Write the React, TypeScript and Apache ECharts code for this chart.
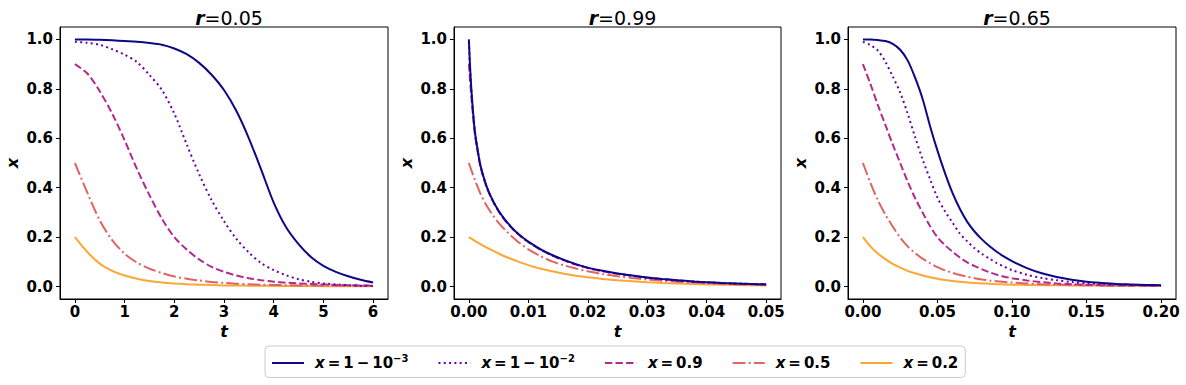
import React, { useEffect, useRef } from "react";
import * as echarts from "echarts";

// ---------- data ----------
const SERIES_NAMES = ["x = 1 − 10^−3", "x = 1 − 10^−2", "x = 0.9", "x = 0.5", "x = 0.2"];
const TITLES = ["0.05", "0.99", "0.65"];

const T1 = [0, 0.25, 0.5, 0.75, 1, 1.25, 1.5, 1.75, 2, 2.25, 2.5, 2.75, 3, 3.25, 3.5, 3.75, 4, 4.25, 4.5, 4.75, 5, 5.25, 5.5, 5.75, 6];
const P1_A = [0.999, 0.999, 0.998, 0.996, 0.993, 0.99, 0.985, 0.978, 0.963, 0.94, 0.905, 0.857, 0.795, 0.71, 0.6, 0.472, 0.34, 0.24, 0.172, 0.12, 0.084, 0.06, 0.042, 0.028, 0.017];
const P1_B = [0.99, 0.986, 0.978, 0.96, 0.938, 0.908, 0.856, 0.795, 0.7, 0.575, 0.455, 0.35, 0.265, 0.193, 0.138, 0.095, 0.067, 0.046, 0.03, 0.02, 0.013, 0.009, 0.006, 0.004, 0.003];
const P1_C = [0.9, 0.862, 0.79, 0.7, 0.592, 0.475, 0.37, 0.275, 0.2, 0.15, 0.11, 0.08, 0.06, 0.045, 0.034, 0.026, 0.02, 0.016, 0.013, 0.011, 0.009, 0.007, 0.006, 0.005, 0.004];
const P1_D = [0.5, 0.38, 0.268, 0.188, 0.133, 0.097, 0.073, 0.055, 0.041, 0.032, 0.025, 0.019, 0.015, 0.012, 0.01, 0.008, 0.007, 0.006, 0.005, 0.0045, 0.004, 0.0035, 0.003, 0.003, 0.003];
const P1_E = [0.2, 0.14, 0.093, 0.064, 0.045, 0.032, 0.023, 0.017, 0.013, 0.01, 0.008, 0.0065, 0.005, 0.0045, 0.004, 0.0035, 0.003, 0.003, 0.0025, 0.0025, 0.002, 0.002, 0.002, 0.002, 0.002];

const T2 = [0, 0.0002, 0.0005, 0.001, 0.0015, 0.002, 0.003, 0.004, 0.005, 0.006, 0.007, 0.008, 0.009, 0.01, 0.012, 0.014, 0.016, 0.018, 0.02, 0.0225, 0.025, 0.0275, 0.03, 0.0325, 0.035, 0.0375, 0.04, 0.0425, 0.045, 0.0475, 0.05];
const P2_A = [1.0, 0.89, 0.77, 0.63, 0.55, 0.485, 0.405, 0.35, 0.307, 0.273, 0.245, 0.22, 0.2, 0.182, 0.152, 0.128, 0.108, 0.091, 0.077, 0.064, 0.053, 0.045, 0.037, 0.031, 0.026, 0.021, 0.018, 0.015, 0.013, 0.011, 0.009];
const P2_B = [0.99, 0.885, 0.768, 0.628, 0.549, 0.484, 0.404, 0.349, 0.306, 0.272, 0.244, 0.219, 0.199, 0.181, 0.151, 0.127, 0.107, 0.09, 0.076, 0.063, 0.052, 0.044, 0.036, 0.03, 0.025, 0.021, 0.017, 0.015, 0.012, 0.011, 0.009];
const P2_C = [0.9, 0.835, 0.745, 0.62, 0.543, 0.48, 0.401, 0.347, 0.304, 0.27, 0.242, 0.218, 0.198, 0.18, 0.15, 0.126, 0.106, 0.089, 0.075, 0.062, 0.052, 0.044, 0.036, 0.03, 0.025, 0.021, 0.017, 0.014, 0.012, 0.01, 0.009];
const P2_D = [0.5, 0.486, 0.465, 0.432, 0.402, 0.373, 0.327, 0.29, 0.258, 0.232, 0.208, 0.187, 0.168, 0.151, 0.124, 0.102, 0.086, 0.073, 0.062, 0.051, 0.042, 0.035, 0.029, 0.024, 0.02, 0.017, 0.014, 0.012, 0.01, 0.0085, 0.007];
const P2_E = [0.2, 0.197, 0.193, 0.185, 0.178, 0.171, 0.158, 0.146, 0.134, 0.123, 0.113, 0.104, 0.095, 0.087, 0.073, 0.062, 0.052, 0.044, 0.038, 0.031, 0.026, 0.022, 0.018, 0.015, 0.013, 0.011, 0.009, 0.008, 0.0065, 0.0055, 0.005];

const T3 = [0, 0.005, 0.01, 0.015, 0.02, 0.025, 0.03, 0.035, 0.04, 0.045, 0.05, 0.055, 0.06, 0.065, 0.07, 0.075, 0.08, 0.085, 0.09, 0.095, 0.1, 0.11, 0.12, 0.13, 0.14, 0.15, 0.16, 0.17, 0.18, 0.19, 0.2];
const P3_A = [0.999, 0.999, 0.997, 0.993, 0.982, 0.958, 0.915, 0.845, 0.76, 0.65, 0.55, 0.46, 0.38, 0.315, 0.262, 0.222, 0.19, 0.163, 0.14, 0.12, 0.103, 0.075, 0.054, 0.039, 0.028, 0.02, 0.015, 0.011, 0.009, 0.007, 0.006];
const P3_B = [0.99, 0.977, 0.955, 0.91, 0.85, 0.785, 0.7, 0.605, 0.515, 0.435, 0.36, 0.305, 0.26, 0.215, 0.183, 0.155, 0.132, 0.113, 0.095, 0.08, 0.067, 0.048, 0.035, 0.026, 0.019, 0.014, 0.011, 0.009, 0.007, 0.006, 0.005];
const P3_C = [0.9, 0.82, 0.735, 0.655, 0.575, 0.5, 0.425, 0.358, 0.3, 0.245, 0.2, 0.168, 0.142, 0.118, 0.098, 0.083, 0.07, 0.058, 0.048, 0.04, 0.034, 0.025, 0.018, 0.013, 0.01, 0.008, 0.006, 0.005, 0.0045, 0.004, 0.004];
const P3_D = [0.5, 0.42, 0.35, 0.292, 0.243, 0.198, 0.163, 0.136, 0.113, 0.095, 0.079, 0.066, 0.056, 0.047, 0.04, 0.034, 0.029, 0.025, 0.022, 0.019, 0.017, 0.013, 0.01, 0.008, 0.0065, 0.0055, 0.005, 0.0045, 0.0045, 0.004, 0.004];
const P3_E = [0.2, 0.163, 0.134, 0.111, 0.092, 0.077, 0.064, 0.054, 0.045, 0.038, 0.032, 0.027, 0.023, 0.02, 0.017, 0.015, 0.013, 0.0115, 0.01, 0.009, 0.008, 0.0068, 0.006, 0.0055, 0.005, 0.0045, 0.004, 0.004, 0.0035, 0.0035, 0.003];

const X_TICKS_1 = [0, 1, 2, 3, 4, 5, 6];
const X_TICKS_2 = [0, 0.01, 0.02, 0.03, 0.04, 0.05];
const X_TICKS_3 = [0, 0.05, 0.1, 0.15, 0.2];
const Y_TICKS = [0, 0.2, 0.4, 0.6, 0.8, 1.0];

// ---------- styles ----------
const COLORS = ["#0d0887", "#6a00a8", "#b12a90", "#e16462", "#fca636"];
const DASHES: any[] = ["solid", [2, 3.3], [7.4, 3.2], [12.8, 3.2, 2, 3.2], "solid"];
const FONT = "DejaVu Sans";

const PANELS = [
  { t: T1, ys: [P1_A, P1_B, P1_C, P1_D, P1_E], ticks: X_TICKS_1, min: -0.3, max: 6.3, dec: 0, left: 60, width: 328 },
  { t: T2, ys: [P2_A, P2_B, P2_C, P2_D, P2_E], ticks: X_TICKS_2, min: -0.0025, max: 0.0525, dec: 2, left: 454, width: 327 },
  { t: T3, ys: [P3_A, P3_B, P3_C, P3_D, P3_E], ticks: X_TICKS_3, min: -0.01, max: 0.21, dec: 2, left: 848, width: 328 },
];
const GRID_TOP = 27;
const GRID_H = 272;

const TS = "\u2009";
const LEGEND_RICH: Record<string, string> = {
  [SERIES_NAMES[0]]: `{i|x}{n|${TS}=${TS}1${TS}−${TS}10}{s|−3}`,
  [SERIES_NAMES[1]]: `{i|x}{n|${TS}=${TS}1${TS}−${TS}10}{s|−2}`,
  [SERIES_NAMES[2]]: `{i|x}{n|${TS}=${TS}0.9}`,
  [SERIES_NAMES[3]]: `{i|x}{n|${TS}=${TS}0.5}`,
  [SERIES_NAMES[4]]: `{i|x}{n|${TS}=${TS}0.2}`,
};

function buildOption() {
  const tickLabelStyle = { fontFamily: FONT, fontWeight: "bold" as const, fontSize: 15, color: "#000" };
  const nameStyle = { fontFamily: FONT, fontWeight: "bold" as const, fontStyle: "italic" as const, fontSize: 16, color: "#000" };
  const grid = PANELS.map((p) => ({
    left: p.left, top: GRID_TOP, width: p.width, height: GRID_H,
    show: true, borderColor: "#000", borderWidth: 1, containLabel: false,
  }));
  const xAxis = PANELS.map((p, i) => ({
    type: "value", gridIndex: i, min: p.min, max: p.max,
    axisLine: { show: true, onZero: false, lineStyle: { color: "#000", width: 1 } },
    axisTick: { show: true, inside: false, length: 4, lineStyle: { color: "#000", width: 1 }, customValues: p.ticks },
    axisLabel: { ...tickLabelStyle, margin: 5, customValues: p.ticks, formatter: (v: number) => v.toFixed(p.dec) },
    splitLine: { show: false },
    name: "t", nameLocation: "middle", nameGap: 24, nameTextStyle: nameStyle,
  }));
  const yAxis = PANELS.map((p, i) => ({
    type: "value", gridIndex: i, min: -0.05, max: 1.05,
    axisLine: { show: true, onZero: false, lineStyle: { color: "#000", width: 1 } },
    axisTick: { show: true, inside: false, length: 4, lineStyle: { color: "#000", width: 1 }, customValues: Y_TICKS },
    axisLabel: { ...tickLabelStyle, margin: 7, customValues: Y_TICKS, formatter: (v: number) => v.toFixed(1) },
    splitLine: { show: false },
    name: "x", nameLocation: "middle", nameGap: 40, nameTextStyle: nameStyle,
  }));
  const series: any[] = [];
  PANELS.forEach((p, i) => {
    p.ys.forEach((vals, k) => {
      series.push({
        type: "line", name: SERIES_NAMES[k], xAxisIndex: i, yAxisIndex: i,
        data: p.t.map((t, j) => [t, vals[j]]),
        showSymbol: false, symbol: "none", smooth: 0.3, z: 10 - k,
        lineStyle: { color: COLORS[k], width: 2, type: DASHES[k], cap: "butt" },
        itemStyle: { color: COLORS[k] },
      });
    });
  });
  const title = PANELS.map((p, i) => ({
    text: `{a|r}{b|=${TITLES[i]}}`,
    left: p.left + p.width / 2, top: 3, textAlign: "center",
    textStyle: {
      rich: {
        a: { fontFamily: FONT, fontSize: 19, fontWeight: "bold", fontStyle: "italic", color: "#000" },
        b: { fontFamily: FONT, fontSize: 19, fontWeight: "normal", color: "#000" },
      },
    },
  }));
  return {
    animation: false,
    backgroundColor: "#fff",
    title, grid, xAxis, yAxis, series,
    legend: {
      data: SERIES_NAMES, left: 265, top: 346, orient: "horizontal",
      itemWidth: 32, itemHeight: 14, itemGap: 29,
      padding: [7, 7, 7, 6],
      borderColor: "#cccccc", borderWidth: 1, borderRadius: 4,
      backgroundColor: "#fff",
      selectedMode: false,
      itemStyle: { opacity: 0, borderWidth: 0 },
      formatter: (name: string) => LEGEND_RICH[name] || name,
      textStyle: {
        rich: {
          i: { fontFamily: FONT, fontSize: 15, fontWeight: "bold", fontStyle: "italic", color: "#000", padding: [0, 0, 0, 6], lineHeight: 20 },
          n: { fontFamily: FONT, fontSize: 15, fontWeight: "bold", color: "#000", lineHeight: 20 },
          s: { fontFamily: FONT, fontSize: 10, fontWeight: "bold", color: "#000", verticalAlign: "top", lineHeight: 12 },
        },
      },
    },
  };
}

export default function App() {
  const ref = useRef<HTMLDivElement>(null);
  useEffect(() => {
    if (!ref.current) return;
    const chart = echarts.init(ref.current, null, { renderer: "svg" });
    chart.setOption(buildOption() as any);
    return () => chart.dispose();
  }, []);
  return <div ref={ref} style={{ position: "fixed", left: 0, top: 0, width: 1186, height: 385, background: "#fff" }} />;
}
